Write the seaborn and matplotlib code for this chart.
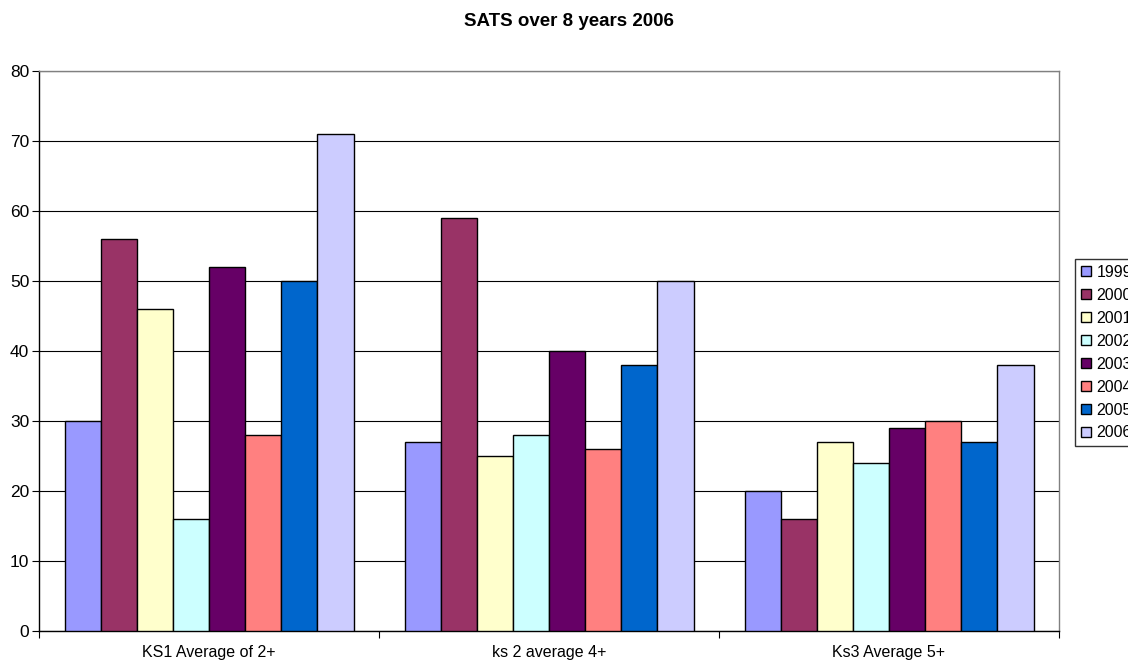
import matplotlib
matplotlib.use("Agg")
import matplotlib.pyplot as plt
import seaborn as sns
import pandas as pd
from matplotlib.ticker import FixedLocator, NullFormatter

# Results per key stage and year
categories = ["KS1 Average of 2+", "ks 2 average 4+", "Ks3 Average 5+"]
years = ["1999", "2000", "2001", "2002", "2003", "2004", "2005", "2006"]
values_1999 = [30, 27, 20]
values_2000 = [56, 59, 16]
values_2001 = [46, 25, 27]
values_2002 = [16, 28, 24]
values_2003 = [52, 40, 29]
values_2004 = [28, 26, 30]
values_2005 = [50, 38, 27]
values_2006 = [71, 50, 38]
series = [values_1999, values_2000, values_2001, values_2002,
          values_2003, values_2004, values_2005, values_2006]
colors = ["#9999FF", "#993366", "#FFFFCC", "#CCFFFF",
          "#660066", "#FF8080", "#0066CC", "#CCCCFF"]

rows = []
for year, vals in zip(years, series):
    for cat, v in zip(categories, vals):
        rows.append({"category": cat, "year": year, "value": v})
df = pd.DataFrame(rows)

sns.set_style("white")
plt.rcParams["font.family"] = ["Liberation Sans", "DejaVu Sans"]
plt.rcParams["text.color"] = "black"
plt.rcParams["xtick.color"] = "black"
plt.rcParams["ytick.color"] = "black"

fig = plt.figure(figsize=(11.28, 6.6), dpi=100)
ax = fig.add_axes([39 / 1128, 1 - 631 / 660, 1020 / 1128, 560 / 660])

sns.barplot(data=df, x="category", y="value", hue="year", order=categories,
            hue_order=years, palette=colors, width=0.85, saturation=1,
            edgecolor="black", linewidth=1, ax=ax, legend=True, zorder=3)

ax.set_xlim(-0.5, 2.5)
ax.set_ylim(0, 80)
ax.set_yticks(range(0, 81, 10))
ax.yaxis.grid(True, color="black", linewidth=0.8, zorder=0)
ax.set_axisbelow(True)
ax.set_xlabel("")
ax.set_ylabel("")

# category labels at centres, tick marks at group boundaries
ax.set_xticks([0, 1, 2])
ax.tick_params(axis="x", which="major", length=0, labelsize=11.5, pad=10,
               labelcolor="black")
ax.xaxis.set_minor_locator(FixedLocator([-0.5, 0.5, 1.5, 2.5]))
ax.xaxis.set_minor_formatter(NullFormatter())
ax.tick_params(axis="x", which="minor", length=5, width=0.8, color="black",
               direction="out", bottom=True)
ax.tick_params(axis="y", length=5, width=0.8, color="black", direction="out",
               left=True, labelsize=12.5, pad=2, labelcolor="black")

for side in ["top", "right"]:
    ax.spines[side].set_color("#808080")
    ax.spines[side].set_linewidth(1)
for side in ["left", "bottom"]:
    ax.spines[side].set_color("black")
    ax.spines[side].set_linewidth(1)

fig.text(569 / 1128, 1 - 22 / 660, "SATS over 8 years 2006", ha="center",
         va="center", fontsize=13.5, fontweight="bold", color="black")

leg = ax.legend(loc="upper left", bbox_to_anchor=(1075 / 1128, 1 - 259 / 660),
                bbox_transform=fig.transFigure, frameon=True, fancybox=False,
                fontsize=11.5, handlelength=0.65, handleheight=0.65,
                handletextpad=0.35, labelspacing=0.5, borderpad=0.35,
                borderaxespad=0, title=None)
leg.get_frame().set_edgecolor("black")
leg.get_frame().set_linewidth(1)
for t in leg.get_texts():
    t.set_color("black")

fig.savefig("out.png", dpi=100)
